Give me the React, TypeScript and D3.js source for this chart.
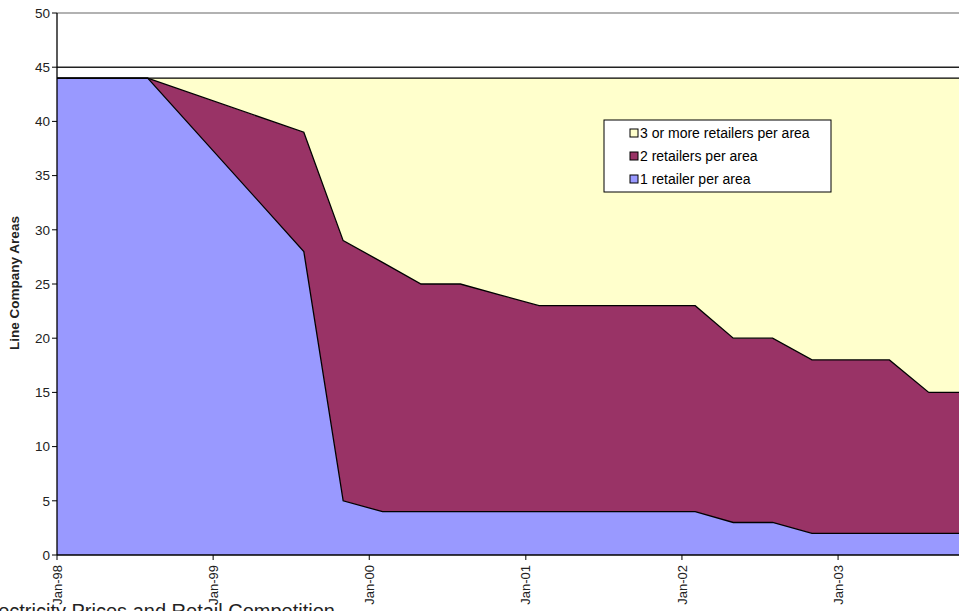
import React from "react";
import * as d3 from "d3";

// Survey dates (year-month)
const dates = [
  "1998-01", "1998-08", "1999-08", "1999-11",
  "2000-02", "2000-05", "2000-08", "2000-11", "2001-02", "2001-05", "2001-08",
  "2001-11", "2002-02", "2002-05", "2002-08", "2002-11", "2003-02", "2003-05",
  "2003-08", "2003-11",
];
// Number of line company areas by count of competing retailers
const oneRetailer = [44, 44, 28, 5, 4, 4, 4, 4, 4, 4, 4, 4, 4, 3, 3, 2, 2, 2, 2, 2];
const twoRetailers = [0, 0, 11, 24, 23, 21, 21, 20, 19, 19, 19, 19, 19, 17, 17, 16, 16, 16, 13, 13];
const threePlusRetailers = [0, 0, 5, 15, 17, 19, 19, 20, 21, 21, 21, 21, 21, 24, 24, 26, 26, 26, 29, 29];

const seriesKeys = ["one", "two", "three"];
const seriesLabels = ["1 retailer per area", "2 retailers per area", "3 or more retailers per area"];
const seriesColors = ["#9999FF", "#993366", "#FFFFCC"];

const yTicks = [0, 5, 10, 15, 20, 25, 30, 35, 40, 45, 50];
const xTickYears = [1998, 1999, 2000, 2001, 2002, 2003];

const W = 959;
const H = 611;
const left = 57;
const bottom = 555;
const top = 13;

const parse = d3.timeParse("%Y-%m");
const fmt = d3.timeFormat("%b-%y");

export default function App() {
  const rows = dates.map((d, i) => ({
    date: parse(d) as Date,
    one: oneRetailer[i],
    two: twoRetailers[i],
    three: threePlusRetailers[i],
  }));

  const x = d3
    .scaleTime()
    .domain([new Date(1998, 0, 1), new Date(2004, 0, 1)])
    .range([left, left + 6 * 156.2]);
  const y = d3.scaleLinear().domain([0, 50]).range([bottom, top]);

  const stacked = d3.stack<any>().keys(seriesKeys)(rows);

  const area = d3
    .area<any>()
    .x((d) => x(d.data.date))
    .y0((d) => y(d[0]))
    .y1((d) => y(d[1]));
  const topLine = d3
    .line<any>()
    .x((d) => x(d.data.date))
    .y((d) => y(d[1]));

  const font = "Arial, 'Liberation Sans', sans-serif";
  const legendOrder = [2, 1, 0];

  return (
    <svg
      width={W}
      height={H}
      style={{ position: "absolute", left: 0, top: 0, background: "#fff" }}
      fontFamily={font}
    >
      <rect x={0} y={0} width={W} height={H} fill="#fff" />
      {/* plot frame top and the 45 gridline */}
      <line x1={left} x2={W} y1={y(50)} y2={y(50)} stroke="#999" strokeWidth={1.5} />
      <line x1={left} x2={W} y1={y(45)} y2={y(45)} stroke="#222" strokeWidth={1.5} />

      {stacked.map((s, i) => (
        <path key={"a" + i} d={area(s) as string} fill={seriesColors[i]} stroke="none" />
      ))}
      {stacked.map((s, i) => (
        <path key={"l" + i} d={topLine(s) as string} fill="none" stroke="#000" strokeWidth={1.3} />
      ))}

      {/* y axis */}
      <line x1={left} x2={left} y1={top} y2={bottom} stroke="#000" strokeWidth={1.3} />
      {yTicks.map((t) => (
        <g key={"y" + t}>
          <line x1={left - 5} x2={left} y1={y(t)} y2={y(t)} stroke="#000" strokeWidth={1} />
          <text x={left - 7} y={y(t)} dy="0.35em" textAnchor="end" fontSize={13.5} fill="#222">
            {t}
          </text>
        </g>
      ))}
      <text
        transform={`translate(19,${283}) rotate(-90)`}
        textAnchor="middle"
        fontSize={13.5}
        fontWeight="bold"
        fill="#222"
      >
        Line Company Areas
      </text>

      {/* x axis */}
      <line x1={left} x2={W} y1={bottom} y2={bottom} stroke="#000" strokeWidth={1.3} />
      {xTickYears.map((yr) => {
        const d = new Date(yr, 0, 1);
        const px = x(d);
        return (
          <g key={"x" + yr}>
            <line x1={px} x2={px} y1={bottom} y2={bottom + 5} stroke="#000" strokeWidth={1} />
            <text
              transform={`translate(${px},${bottom + 10}) rotate(-90)`}
              textAnchor="end"
              dy="0.35em"
              fontSize={13}
              fill="#222"
            >
              {fmt(d)}
            </text>
          </g>
        );
      })}

      {/* legend */}
      <rect x={604} y={120} width={227} height={72} fill="#fff" stroke="#000" strokeWidth={1} />
      {legendOrder.map((si, k) => (
        <g key={"lg" + si} transform={`translate(630,${133 + k * 23})`}>
          <rect x={0} y={-4} width={8} height={8} fill={seriesColors[si]} stroke="#000" strokeWidth={1} />
          <text x={10} y={0} dy="0.35em" fontSize={14} fill="#000">
            {seriesLabels[si]}
          </text>
        </g>
      ))}

      {/* document caption below chart */}
      <text x={335} y={618} textAnchor="end" fontSize={20} fill="#222">
        Electricity Prices and Retail Competition
      </text>
    </svg>
  );
}
